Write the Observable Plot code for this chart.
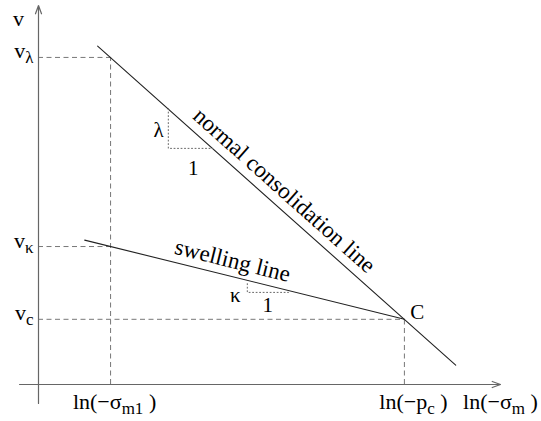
<!DOCTYPE html>
<html>
<head>
<meta charset="utf-8">
<script src="https://cdn.jsdelivr.net/npm/d3@7"></script>
<script src="https://cdn.jsdelivr.net/npm/@observablehq/plot@0.6"></script>
<style>
  html, body { margin: 0; padding: 0; background: #fff; }
  #chart { width: 541px; height: 421px; }
</style>
</head>
<body>
<div id="chart"></div>
<script>
// ---- data (schematic units) ----
const yLevels = [8.63, 3.64, 1.72];
const yLabels = ["v_{λ}", "v_{κ}", "v_{c}"];
const yGuideEnds = [1.56, 1.56, 7.92];
const xLevels = [1.56, 7.92];
const xLabels = ["ln(−σ_{m1} )", "ln(−p_{c} )"];
const xGuideTops = [8.63, 1.72];
const xTitle = "ln(−σ_{m} )";
const yTitle = "v";

const nclX = [1.28, 9.03];
const nclY = [8.93, 0.51];
const swellX = [1.0, 7.92];
const swellY = [3.81, 1.72];

const lambdaTriX = [2.81, 2.81, 3.77];
const lambdaTriY = [7.28, 6.23, 6.23];
const kappaTriX = [4.52, 4.52, 5.41];
const kappaTriY = [2.66, 2.43, 2.43];

const noteTexts = ["λ", "1", "κ", "1", "C"];
const noteX = [2.60, 3.35, 4.26, 4.96, 8.20];
const noteY = [6.70, 5.70, 2.35, 2.08, 1.90];

const lineNames = ["normal consolidation line", "swelling line"];
const lineNameX = [5.32, 4.20];
const lineNameY = [5.12, 3.27];

// ---- layout ----
const W = 541, H = 421;
const mL = 38, mR = 41, mT = 5, mB = 37;
const pxX = (W - mL - mR) / 10, pxY = (H - mT - mB) / 10;
const angleOf = (xs, ys) => Math.atan(Math.abs((ys[1] - ys[0]) / (xs[1] - xs[0])) * pxY / pxX) * 180 / Math.PI;
const angles = [angleOf(nclX, nclY), angleOf(swellX, swellY)];

const hGuides = yLevels.map((y, i) => ({x1: 0, x2: yGuideEnds[i], y}));
const vGuides = xLevels.map((x, i) => ({x, y1: 0, y2: xGuideTops[i]}));
const toPts = (xs, ys) => xs.map((x, i) => ({x, y: ys[i]}));
const notes = noteTexts.map((t, i) => ({t, x: noteX[i], y: noteY[i]}));
const names = lineNames.map((t, i) => ({t, x: lineNameX[i], y: lineNameY[i], r: angles[i]}));
const yLab = yLabels.map((t, i) => ({t, y: yLevels[i]}));

const font = "'Liberation Serif', 'Times New Roman', serif";

const svg = Plot.plot({
  width: W, height: H,
  marginLeft: mL, marginRight: mR, marginTop: mT, marginBottom: mB,
  x: {domain: [0, 10], axis: null},
  y: {domain: [0, 10], axis: null},
  style: {fontFamily: font, background: "#fff", color: "#000"},
  marks: [
    // guides
    Plot.ruleY(hGuides, {y: "y", x1: "x1", x2: "x2", stroke: "#777", strokeWidth: 1, strokeDasharray: "5,3.5"}),
    Plot.ruleX(vGuides, {x: "x", y1: "y1", y2: "y2", stroke: "#777", strokeWidth: 1, strokeDasharray: "5,3.5"}),
    // axes with arrows
    Plot.arrow([{x1: 0, y1: -0.5, x2: 0, y2: 10}], {x1: "x1", y1: "y1", x2: "x2", y2: "y2", stroke: "#666", strokeWidth: 1.2, headLength: 11, headAngle: 40}),
    Plot.arrow([{x1: -0.41, y1: 0, x2: 10, y2: 0}], {x1: "x1", y1: "y1", x2: "x2", y2: "y2", stroke: "#666", strokeWidth: 1.2, headLength: 11, headAngle: 40}),
    // lines
    Plot.line(toPts(nclX, nclY), {x: "x", y: "y", stroke: "#222", strokeWidth: 1.1}),
    Plot.line(toPts(swellX, swellY), {x: "x", y: "y", stroke: "#222", strokeWidth: 1.1}),
    // slope triangles
    Plot.line(toPts(lambdaTriX, lambdaTriY), {x: "x", y: "y", stroke: "#666", strokeWidth: 1, strokeDasharray: "1,2.5"}),
    Plot.line(toPts(kappaTriX, kappaTriY), {x: "x", y: "y", stroke: "#666", strokeWidth: 1, strokeDasharray: "1,2.5"}),
    // texts
    Plot.text(notes, {x: "x", y: "y", text: "t", fontSize: 21, lineAnchor: "middle", fill: "#000"}),
    Plot.text(names, {x: "x", y: "y", text: "t", rotate: "r", fontSize: 23, lineAnchor: "middle", fill: "#000"}),
    Plot.text(yLab, {x: 0, y: "y", text: "t", fontSize: 22, textAnchor: "end", lineAnchor: "bottom", dx: -5, dy: 1, fill: "#000"}),
    Plot.text([yTitle], {x: 0, y: 10, text: d => d, fontSize: 22, textAnchor: "middle", lineAnchor: "bottom", dx: -20, dy: 20, fill: "#000"}),
    Plot.text([xLabels[0]], {x: xLevels[0], y: 0, text: d => d, fontSize: 22, textAnchor: "middle", lineAnchor: "bottom", dx: 4, dy: 24, fill: "#000"}),
    Plot.text([xLabels[1]], {x: xLevels[1], y: 0, text: d => d, fontSize: 22, textAnchor: "middle", lineAnchor: "bottom", dx: 9, dy: 24, fill: "#000"}),
    Plot.text([xTitle], {x: 10, y: 0, text: d => d, fontSize: 22, textAnchor: "middle", lineAnchor: "bottom", dx: 0, dy: 24, fill: "#000"})
  ]
});

// turn "a_{b}c" into real subscript tspans
d3.select(svg).selectAll("text").each(function() {
  const s = this.textContent;
  if (!s.includes("_{")) return;
  const parts = s.split(/(_\{[^}]*\})/).filter(p => p.length);
  const el = d3.select(this);
  el.text(null);
  let shifted = false;
  parts.forEach(p => {
    if (p.startsWith("_{")) {
      el.append("tspan").attr("dy", "5").attr("font-size", "17").text(p.slice(2, -1));
      shifted = true;
    } else {
      const t = el.append("tspan").text(p);
      if (shifted) { t.attr("dy", "-5"); shifted = false; }
    }
  });
});

document.getElementById("chart").appendChild(svg);
</script>
</body>
</html>
